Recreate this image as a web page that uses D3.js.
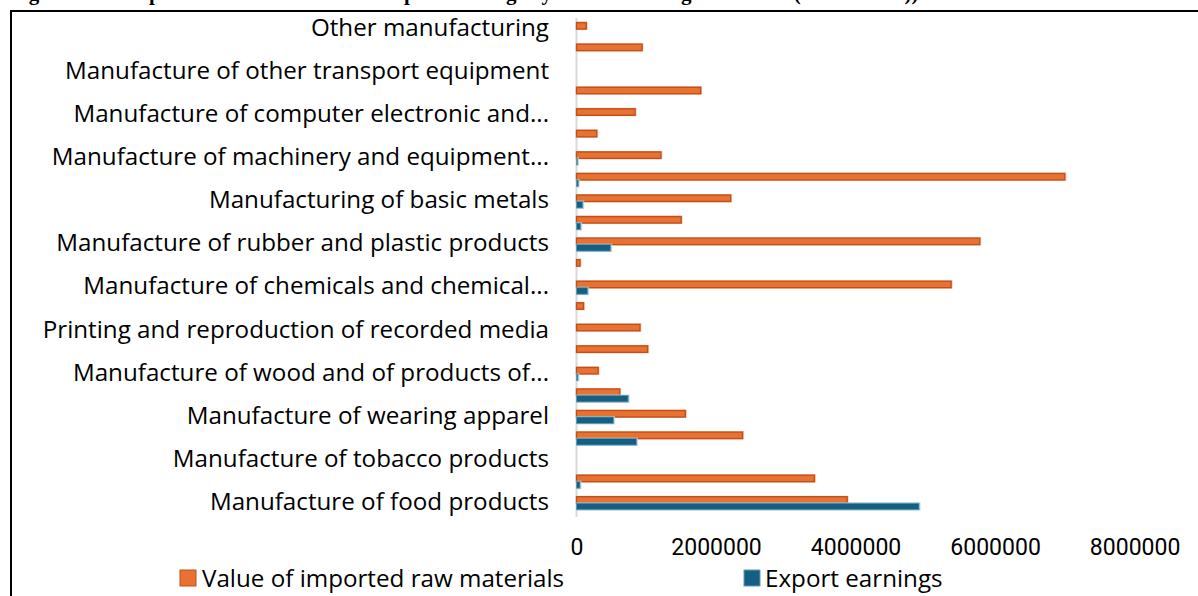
<!DOCTYPE html>
<html>
<head>
<meta charset="utf-8">
<script src="https://cdn.jsdelivr.net/npm/d3@7"></script>
<style>
  html, body { margin: 0; padding: 0; background: #fff; overflow: hidden; }
  svg { display: block; }
</style>
</head>
<body>
<svg id="chart" width="1198" height="596"></svg>
<script>
// Sub-sectors, listed from the bottom of the chart upwards
const categories = [
  "Manufacture of food products",
  "Manufacture of beverages",
  "Manufacture of tobacco products",
  "Manufacture of textiles",
  "Manufacture of wearing apparel",
  "Manufacture of leather and related products",
  "Manufacture of wood and of products of...",
  "Manufacture of paper and paper products",
  "Printing and reproduction of recorded media",
  "Manufacture of coke and refined petroleum products",
  "Manufacture of chemicals and chemical...",
  "Manufacture of basic pharmaceutical products",
  "Manufacture of rubber and plastic products",
  "Manufacture of other non-metallic mineral products",
  "Manufacturing of basic metals",
  "Manufacture of fabricated metal products",
  "Manufacture of machinery and equipment...",
  "Manufacture of electrical equipment",
  "Manufacture of computer electronic and...",
  "Manufacture of motor vehicles, trailers and semi-trailers",
  "Manufacture of other transport equipment",
  "Manufacture of furniture",
  "Other manufacturing"
];

const importedRawMaterials = [
  3880000, 3410000, 0, 2380000, 1560000, 620000, 310000, 1020000, 910000, 100000,
  5370000, 50000, 5780000, 1500000, 2210000, 7000000, 1210000, 290000, 840000,
  1780000, 0, 940000, 140000
];

const exportEarnings = [
  4910000, 50000, 0, 860000, 530000, 740000, 20000, 0, 0, 0,
  160000, 0, 490000, 60000, 90000, 25000, 15000, 0, 0,
  0, 0, 0, 0
];

const seriesNames = ["Value of imported raw materials", "Export earnings"];
const xTickValues = [0, 2000000, 4000000, 6000000, 8000000];

const colors = {
  "Value of imported raw materials": { fill: "#E97132", stroke: "#C0501A", halo: "#F6C3A4" },
  "Export earnings": { fill: "#156082", stroke: "#5F97B4", halo: "#B9D2DF" }
};

const svg = d3.select("#chart");

// Caption line sitting above the frame, mostly outside the page top
svg.append("text")
  .attr("x", 10).attr("y", -0.5)
  .attr("font-family", "Liberation Serif")
  .attr("font-weight", "bold")
  .attr("font-size", 21)
  .attr("fill", "#000")
  .text("Figure 4.10: Import of raw materials and export earnings by manufacturing sub-sector (in '000 Birr))");

// Chart frame (runs off the right and bottom edges)
svg.append("path")
  .attr("d", "M11,700 L11,11 L1300,11")
  .attr("fill", "none")
  .attr("stroke", "#000")
  .attr("stroke-width", 2);

const x = d3.scaleLinear().domain([0, 8000000]).range([576.5, 1134.6]);
const y = d3.scaleBand().domain(categories).range([514, 18.3]).padding(0);
const ySub = d3.scaleBand().domain(seriesNames).range([0, y.bandwidth()])
  .paddingInner(0).paddingOuter(0.66);

const rows = categories.map((c, i) => ({
  category: c,
  values: [
    { series: seriesNames[0], value: importedRawMaterials[i] },
    { series: seriesNames[1], value: exportEarnings[i] }
  ]
}));

// Zero line
svg.append("line")
  .attr("x1", x(0)).attr("x2", x(0))
  .attr("y1", 18).attr("y2", 517)
  .attr("stroke", "#D9D9D9")
  .attr("stroke-width", 2);

const groups = svg.append("g").selectAll("g")
  .data(rows)
  .join("g")
  .attr("transform", d => `translate(0,${y(d.category)})`);

const bars = groups.selectAll("g.bar")
  .data(d => d.values.filter(v => v.value > 0))
  .join("g").attr("class", "bar");

// soft outer glow
bars.append("rect")
  .attr("x", x(0))
  .attr("y", d => ySub(d.series) - 1)
  .attr("width", d => Math.max(0, x(d.value) - x(0)) + 1.5)
  .attr("height", ySub.bandwidth() + 2)
  .attr("fill", d => colors[d.series].halo)
  .attr("opacity", 0.8);

bars.append("rect")
  .attr("x", x(0))
  .attr("y", d => ySub(d.series))
  .attr("width", d => Math.max(1, x(d.value) - x(0)))
  .attr("height", ySub.bandwidth())
  .attr("fill", d => colors[d.series].fill)
  .attr("stroke", d => colors[d.series].stroke)
  .attr("stroke-width", d => d.series === seriesNames[0] ? 1.4 : 0.8);

// Category axis: every second label is shown
const yAxis = d3.axisLeft(y)
  .tickValues(categories.filter((c, i) => i % 2 === 0))
  .tickSize(0)
  .tickPadding(0);

const yg = svg.append("g")
  .attr("transform", "translate(549,0)")
  .call(yAxis);
yg.select(".domain").remove();
yg.selectAll("text")
  .attr("font-family", "Open Sans")
  .attr("font-size", 24.2)
  .attr("fill", "#000")
  .attr("dy", "0.28em");

// Value axis
const xAxis = d3.axisBottom(x)
  .tickValues(xTickValues)
  .tickFormat(d3.format("d"))
  .tickSize(0)
  .tickPadding(0);

const xg = svg.append("g")
  .attr("transform", "translate(0,538)")
  .call(xAxis);
xg.select(".domain").remove();
xg.selectAll("text")
  .attr("font-family", "Roboto")
  .attr("font-size", 23)
  .attr("fill", "#000")
  .attr("dy", "0.76em");

// Legend
const legendPos = [{ sx: 180, tx: 202 }, { sx: 744, tx: 765 }];
const legend = svg.append("g").selectAll("g")
  .data(seriesNames)
  .join("g");

legend.append("rect")
  .attr("x", (d, i) => legendPos[i].sx)
  .attr("y", 570)
  .attr("width", 16).attr("height", 16)
  .attr("fill", d => colors[d].fill)
  .attr("stroke", d => colors[d].stroke)
  .attr("stroke-width", 1);

legend.append("text")
  .attr("x", (d, i) => legendPos[i].tx)
  .attr("y", 578)
  .attr("dy", "0.36em")
  .attr("font-family", "Open Sans")
  .attr("font-size", 24.2)
  .attr("fill", "#000")
  .text(d => d);
</script>
</body>
</html>
